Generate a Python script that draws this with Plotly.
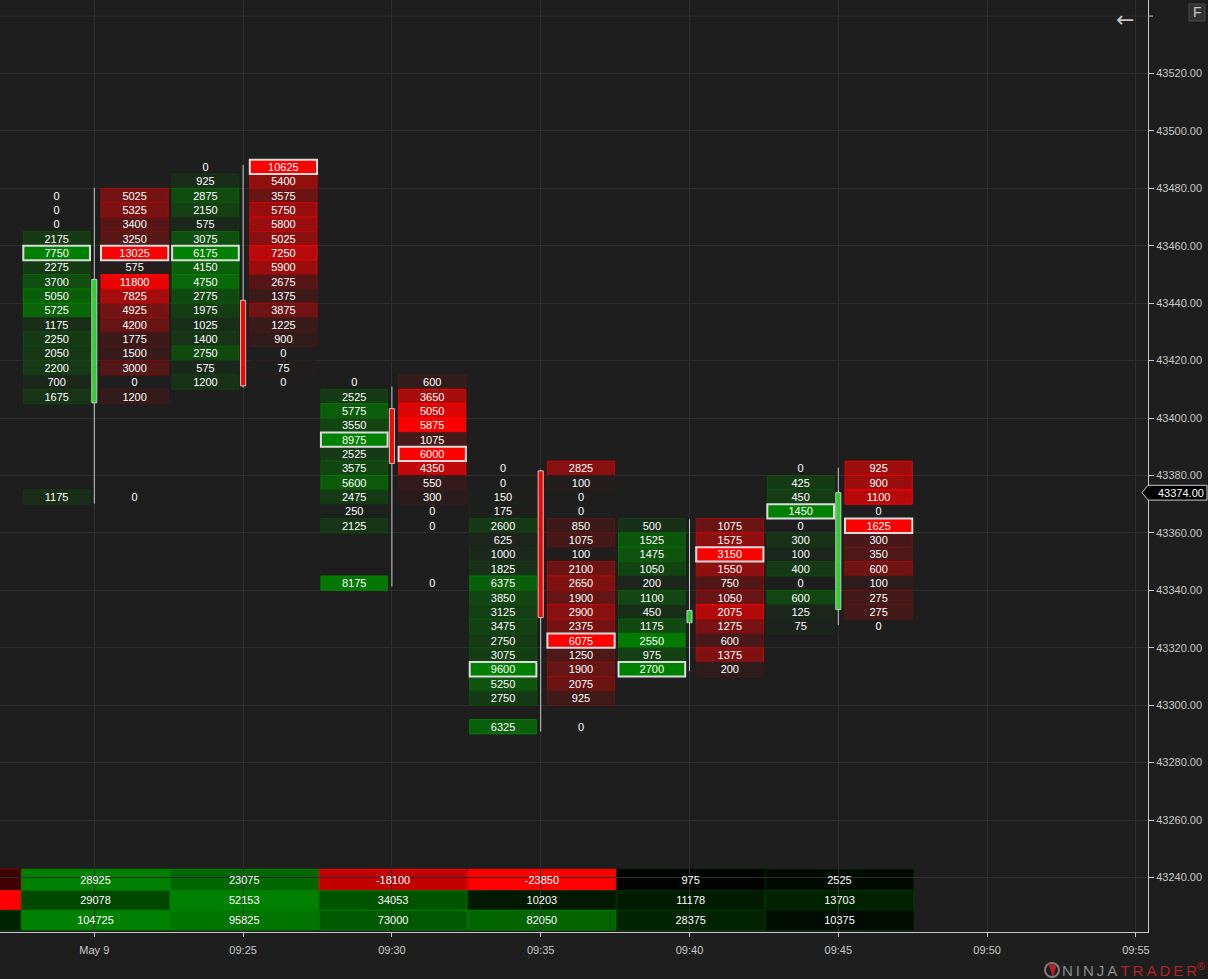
import plotly.graph_objects as go

# ---------------- data ----------------
time_labels = ["May 9", "09:25", "09:30", "09:35", "09:40", "09:45", "09:50", "09:55"]

prices_1 = [43475, 43470, 43465, 43460, 43455, 43450, 43445, 43440, 43435, 43430, 43425, 43420, 43415, 43410, 43405, 43370]
bids_1 = [0, 0, 0, 2175, 7750, 2275, 3700, 5050, 5725, 1175, 2250, 2050, 2200, 700, 1675, 1175]
asks_1 = [5025, 5325, 3400, 3250, 13025, 575, 11800, 7825, 4925, 4200, 1775, 1500, 3000, 0, 1200, 0]

prices_2 = [43485, 43480, 43475, 43470, 43465, 43460, 43455, 43450, 43445, 43440, 43435, 43430, 43425, 43420, 43415, 43410]
bids_2 = [0, 925, 2875, 2150, 575, 3075, 6175, 4150, 4750, 2775, 1975, 1025, 1400, 2750, 575, 1200]
asks_2 = [10625, 5400, 3575, 5750, 5800, 5025, 7250, 5900, 2675, 1375, 3875, 1225, 900, 0, 75, 0]

prices_3 = [43410, 43405, 43400, 43395, 43390, 43385, 43380, 43375, 43370, 43365, 43360, 43340]
bids_3 = [0, 2525, 5775, 3550, 8975, 2525, 3575, 5600, 2475, 250, 2125, 8175]
asks_3 = [600, 3650, 5050, 5875, 1075, 6000, 4350, 550, 300, 0, 0, 0]

prices_4 = [43380, 43375, 43370, 43365, 43360, 43355, 43350, 43345, 43340, 43335, 43330, 43325, 43320, 43315, 43310, 43305, 43300, 43290]
bids_4 = [0, 0, 150, 175, 2600, 625, 1000, 1825, 6375, 3850, 3125, 3475, 2750, 3075, 9600, 5250, 2750, 6325]
asks_4 = [2825, 100, 0, 0, 850, 1075, 100, 2100, 2650, 1900, 2900, 2375, 6075, 1250, 1900, 2075, 925, 0]

prices_5 = [43360, 43355, 43350, 43345, 43340, 43335, 43330, 43325, 43320, 43315, 43310]
bids_5 = [500, 1525, 1475, 1050, 200, 1100, 450, 1175, 2550, 975, 2700]
asks_5 = [1075, 1575, 3150, 1550, 750, 1050, 2075, 1275, 600, 1375, 200]

prices_6 = [43380, 43375, 43370, 43365, 43360, 43355, 43350, 43345, 43340, 43335, 43330, 43325]
bids_6 = [0, 425, 450, 1450, 0, 300, 100, 400, 0, 600, 125, 75]
asks_6 = [925, 900, 1100, 0, 1625, 300, 350, 600, 100, 275, 275, 0]

candle_open = [43405.3, 43441.0, 43403.3, 43381.6, 43328.7, 43333.3]
candle_high = [43480.2, 43488.2, 43411.0, 43382.0, 43364.7, 43382.7]
candle_low = [43370.2, 43410.6, 43341.3, 43290.8, 43311.8, 43327.9]
candle_close = [43448.3, 43411.2, 43384.2, 43330.5, 43333.0, 43374.0]

table_slots = [-1, 0, 1, 2, 3, 4, 5]
bar_delta = [-6075, 28925, 23075, -18100, -23850, 975, 2525]
cum_delta = [-6075, 29078, 52153, 34053, 10203, 11178, 13703]
bar_volume = [28600, 104725, 95825, 73000, 82050, 28375, 10375]

price_ticks = list(range(43240, 43521, 20))
last_price = 43374.0

footprint = [(prices_1, bids_1, asks_1), (prices_2, bids_2, asks_2), (prices_3, bids_3, asks_3),
             (prices_4, bids_4, asks_4), (prices_5, bids_5, asks_5), (prices_6, bids_6, asks_6)]

# ---------------- style ----------------
FONT = "Liberation Sans, Arial, sans-serif"
BG = (30, 30, 30)
BG_HEX = "#1e1e1e"
GRID = "#2e2e2e"
AXIS = "#c8c8c8"
GREEN = (0, 128, 0)
RED = (255, 0, 0)
BLACK = (0, 0, 0)
ROW = 5
TEXT_NUDGE = 0.45
BID0, BID1 = -0.477, -0.029
ASK0, ASK1 = 0.045, 0.497
PLOT_W, PLOT_H = 1148, 932
X_RANGE = [-0.6337, 7.0813]
Y_RANGE = [43221.0, 43545.6]


def mix(c1, c2, t):
    return tuple(int(round(a + (b - a) * t)) for a, b in zip(c1, c2))


def rgb(c):
    return "rgb(%d,%d,%d)" % c


def px_x(px):
    return px / PLOT_W


def px_y(py):
    return (PLOT_H - py) / PLOT_H


shapes = []
cell_x, cell_y, cell_t = [], [], []

# footprint cells
for i, (prices, bids, asks) in enumerate(footprint):
    bmax, amax = max(bids), max(asks)
    highlights = []
    for p, b, a in zip(prices, bids, asks):
        for v, vmax, full, x0, x1 in ((b, bmax, GREEN, BID0, BID1), (a, amax, RED, ASK0, ASK1)):
            if v > 0:
                r = v / vmax
                shapes.append(dict(type="rect", xref="x", yref="y", x0=i + x0, x1=i + x1, y0=p, y1=p + ROW,
                                   fillcolor=rgb(mix(BG, full, r)),
                                   line=dict(color=rgb(mix(BG, full, min(1, r * 1.35 + 0.08))), width=1),
                                   layer="between"))
            if v == vmax:
                highlights.append((x0, x1, p))
            cell_x.append(i + (x0 + x1) / 2)
            cell_y.append(p + ROW / 2 - TEXT_NUDGE)
            cell_t.append(str(v))
    for x0, x1, p in highlights:
        shapes.append(dict(type="rect", xref="x", yref="y", x0=i + x0, x1=i + x1, y0=p, y1=p + ROW,
                           fillcolor="rgba(0,0,0,0)", line=dict(color="#dcdcdc", width=2), layer="between"))

# candles
CW = 0.017
for i, (o, h, l, c) in enumerate(zip(candle_open, candle_high, candle_low, candle_close)):
    shapes.append(dict(type="line", xref="x", yref="y", x0=i, x1=i, y0=l, y1=h,
                       line=dict(color=AXIS, width=1), layer="between"))
    shapes.append(dict(type="rect", xref="x", yref="y", x0=i - CW, x1=i + CW, y0=min(o, c), y1=max(o, c),
                       fillcolor="#32cd32" if c >= o else "#ff0000",
                       line=dict(color="#c8c8c8", width=1), layer="between"))

# summary table
row_edges_px = [869.3, 890.7, 910.3, 930.0]
tab_x, tab_y, tab_t = [], [], []
for k, vals in enumerate((bar_delta, cum_delta, bar_volume)):
    pos_max = max([v for v in vals if v > 0] or [1])
    neg_max = max([-v for v in vals if v < 0] or [1])
    y_top, y_bot = px_y(row_edges_px[k]), px_y(row_edges_px[k + 1])
    for s, v in zip(table_slots, vals):
        if v >= 0:
            r, full = v / pos_max, GREEN
        else:
            r, full = -v / neg_max, RED
        shapes.append(dict(type="rect", xref="x", yref="paper", x0=s - 0.488, x1=s + 0.505, y0=y_bot, y1=y_top,
                           fillcolor=rgb(mix(BLACK, full, r)),
                           line=dict(color=rgb(mix(BLACK, full, min(1, r * 1.3 + 0.12))), width=1),
                           layer="between"))
        if s >= 0:  # the earlier bar's labels fall outside the visible area
            tab_x.append(s + 0.008)
            tab_y.append((y_top + y_bot) / 2 - 1.0 / PLOT_H)
            tab_t.append(str(v))

# topmost grid line and tick above the last labelled price
top_grid = price_ticks[-1] + 20
shapes.append(dict(type="line", xref="paper", yref="y", x0=0, x1=1, y0=top_grid, y1=top_grid,
                   line=dict(color=GRID, width=1), layer="below"))
shapes.append(dict(type="line", xref="paper", yref="y", x0=1, x1=px_x(PLOT_W + 5), y0=top_grid, y1=top_grid,
                   line=dict(color=AXIS, width=1), layer="above"))

# last price marker
yl = (last_price - Y_RANGE[0]) / (Y_RANGE[1] - Y_RANGE[0])
hh = 7.4 / PLOT_H
shapes.append(dict(type="path", xref="paper", yref="paper",
                   path="M %f,%f L %f,%f L %f,%f L %f,%f L %f,%f Z" % (
                       px_x(1142), yl, px_x(1148), yl + hh, px_x(1207), yl + hh,
                       px_x(1207), yl - hh, px_x(1148), yl - hh),
                   fillcolor="#000000", line=dict(color="#c8c8c8", width=1), layer="above"))

# F button
shapes.append(dict(type="rect", xref="paper", yref="paper", x0=px_x(1189), x1=px_x(1205),
                   y0=px_y(21), y1=px_y(4), fillcolor="#323232", line=dict(color="#4a4a4a", width=1),
                   layer="above"))

# logo icon
shapes.append(dict(type="circle", xref="paper", yref="paper", x0=px_x(1045), x1=px_x(1059),
                   y0=px_y(977), y1=px_y(963), fillcolor="rgba(0,0,0,0)",
                   line=dict(color="#7d7d7d", width=2), layer="above"))
shapes.append(dict(type="path", xref="paper", yref="paper",
                   path="M %f,%f L %f,%f L %f,%f Z" % (px_x(1049), px_y(964), px_x(1056), px_y(966),
                                                       px_x(1053), px_y(976)),
                   fillcolor="#b3222a", line=dict(color="#b3222a", width=1), layer="above"))

fig = go.Figure()
fig.add_trace(go.Scatter(x=cell_x, y=cell_y, mode="text", text=cell_t,
                         textfont=dict(color="#ffffff", size=11, family=FONT), hoverinfo="skip"))
fig.add_trace(go.Scatter(x=tab_x, y=tab_y, mode="text", text=tab_t, yaxis="y2",
                         textfont=dict(color="#ffffff", size=11, family=FONT), hoverinfo="skip"))

thin = "\u2009"
logo = ("<span style='color:#8c8c8c'>" + thin.join("NINJA") + "</span>" + thin +
        "<span style='color:#b3222a'>" + thin.join("TRADER") + "<sup>®</sup></span>")

fig.update_layout(
    template="none",
    width=1208, height=979,
    margin=dict(l=0, r=60, t=0, b=47),
    paper_bgcolor=BG_HEX, plot_bgcolor=BG_HEX,
    showlegend=False,
    shapes=shapes,
    xaxis=dict(range=X_RANGE, tickvals=list(range(len(time_labels))), ticktext=time_labels,
               showgrid=True, gridcolor=GRID, gridwidth=1, zeroline=False,
               ticks="outside", ticklen=4, tickcolor=AXIS, showline=True, linecolor=AXIS, linewidth=1,
               ticklabelstandoff=4,
               tickfont=dict(color=AXIS, size=11, family=FONT), automargin=False, fixedrange=True),
    yaxis=dict(range=Y_RANGE, side="right", tickvals=price_ticks, ticktext=["%.2f" % v for v in price_ticks],
               showgrid=True, gridcolor=GRID, gridwidth=1, zeroline=False,
               ticks="outside", ticklen=5, tickcolor=AXIS, showline=True, linecolor=AXIS, linewidth=1,
               tickfont=dict(color=AXIS, size=11, family=FONT), automargin=False, fixedrange=True),
    yaxis2=dict(overlaying="y", range=[0, 1], visible=False, fixedrange=True),
    annotations=[
        dict(xref="paper", yref="y", x=px_x(1156), y=last_price, xanchor="left", yanchor="middle",
             text="%.2f" % last_price, showarrow=False, font=dict(color="#ffffff", size=11, family=FONT)),
        dict(xref="paper", yref="paper", x=px_x(1125), y=px_y(20), xanchor="center", yanchor="middle",
             text="\u2190", showarrow=False, font=dict(color="#c8c8c8", size=22, family="DejaVu Sans")),
        dict(xref="paper", yref="paper", x=px_x(1197), y=px_y(12.5), xanchor="center", yanchor="middle",
             text="F", showarrow=False, font=dict(color="#c8c8c8", size=14, family=FONT)),
        dict(xref="paper", yref="paper", x=px_x(1207), y=px_y(969), xanchor="right", yanchor="middle",
             text=logo, showarrow=False, font=dict(size=15, family=FONT)),
    ],
)

fig.write_html("out.html", config={"displayModeBar": False},
               post_script="document.body.style.margin='0';document.body.style.background='#1e1e1e';")
